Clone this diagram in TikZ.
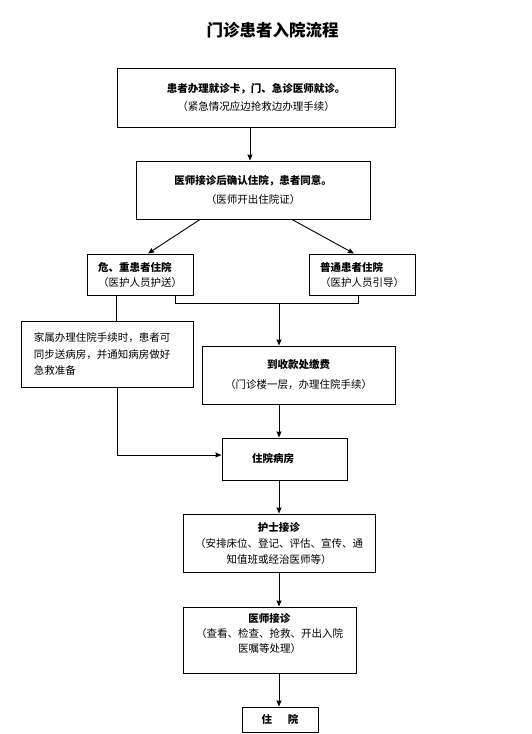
\documentclass[tikz,border=0pt]{standalone}
\usepackage{fontspec}
\newfontfamily\cjk{Noto Sans CJK SC}
\usepackage{tikz}
\usetikzlibrary{arrows.meta, positioning, calc}
\tikzstyle{heading} = [font=\cjk\bfseries\fontsize{16.5}{20}\selectfont]
\tikzstyle{process} = [draw, rectangle, line width=1pt, align=center, inner sep=2pt, font=\cjk\fontsize{10.5}{15}\selectfont]
\tikzstyle{arrow} = [line width=0.9pt,->,>={Stealth[length=6pt,width=5pt,inset=0.5pt]}]
\tikzstyle{line} = [line width=0.9pt]

\begin{document}
\begin{tikzpicture}[node distance=33pt]
    \useasboundingbox (0,0) rectangle (532pt,-734pt);
    \node (title) [heading] at (272.5pt,-30pt) {门诊患者入院流程};
    \node (intake) [process, minimum width=278pt, minimum height=59pt] at (256pt,-97.5pt) {\textbf{患者办理就诊卡，门、急诊医师就诊。}\\[3pt]（紧急情况应边抢救边办理手续）};
    \node (confirm) [process, minimum width=234pt, minimum height=58pt, below=33pt of intake, xshift=-3pt] {\textbf{医师接诊后确认住院，患者同意。}\\[4pt]（医师开出住院证）};
    \node (critical) [process, align=left, minimum width=106pt, minimum height=41pt, below=34pt of confirm, xshift=-113pt] {\textbf{危、重患者住院}\\（医护人员护送）};
    \node (normal) [process, align=left, minimum width=106pt, minimum height=41pt, right=115pt of critical] {\textbf{普通患者住院}\\（医护人员引导）};
    \node (family) [process, align=left, text width=146pt, inner xsep=13pt, minimum height=66pt, below=25pt of critical, xshift=-33pt] {家属办理住院手续时，患者可\\[1.5pt]同步送病房，并通知病房做好\\[1.5pt]急救准备};
    \node (charge) [process, minimum width=193pt, minimum height=58pt, below=50pt of critical, xshift=158.5pt] {\textbf{到收款处缴费}\\[5pt]（门诊楼一层，办理住院手续）};
    \node (ward) [process, align=left, text width=65pt, inner xsep=30pt, minimum height=42pt, below=33pt of charge, xshift=-14pt] {\textbf{住院病房}};
    \node (nurse) [process, minimum width=192pt, minimum height=58pt, below=33pt of ward, xshift=-5.5pt] {\textbf{护士接诊}\\[1pt]（安排床位、登记、评估、宣传、通\\[1pt]知值班或经治医师等）};
    \node (doctor) [process, minimum width=173pt, minimum height=66pt, below=34pt of nurse, xshift=-9.5pt] {\textbf{医师接诊}\\（查看、检查、抢救、开出入院\\医嘱等处理）\\ \mbox{}};
    \node (final) [process, minimum width=76pt, minimum height=25pt, below=33pt of doctor, xshift=10.5pt] {\textbf{住\hspace{1.5em}院}};
    \coordinate (join) at ($(critical.south)+(139pt,-8pt)$);

    \draw [arrow] ([xshift=-3pt]confirm.north |- intake.south) -- ([xshift=-3pt]confirm.north);
    \draw [arrow] ([xshift=-53pt]confirm.south) -- ([xshift=8pt]critical.north);
    \draw [arrow] ([xshift=39pt]confirm.south) -- ([xshift=-8pt]normal.north);
    \draw [line] ([xshift=-24pt]critical.south) -- ([xshift=-24pt]critical.south |- family.north);
    \draw [line] ([xshift=35pt]critical.south) |- (join) -| ([xshift=-4pt]normal.south);
    \draw [arrow] (join) -- (join |- charge.north);
    \draw [arrow] ([xshift=10pt]family.south) |- ([yshift=4pt]ward.west);
    \draw [arrow] (join |- charge.south) -- (join |- ward.north);
    \draw [arrow] (join |- ward.south) -- (join |- nurse.north);
    \draw [arrow] (join |- nurse.south) -- (join |- doctor.north);
    \draw [arrow] (join |- doctor.south) -- (join |- final.north);
\end{tikzpicture}
\end{document}
